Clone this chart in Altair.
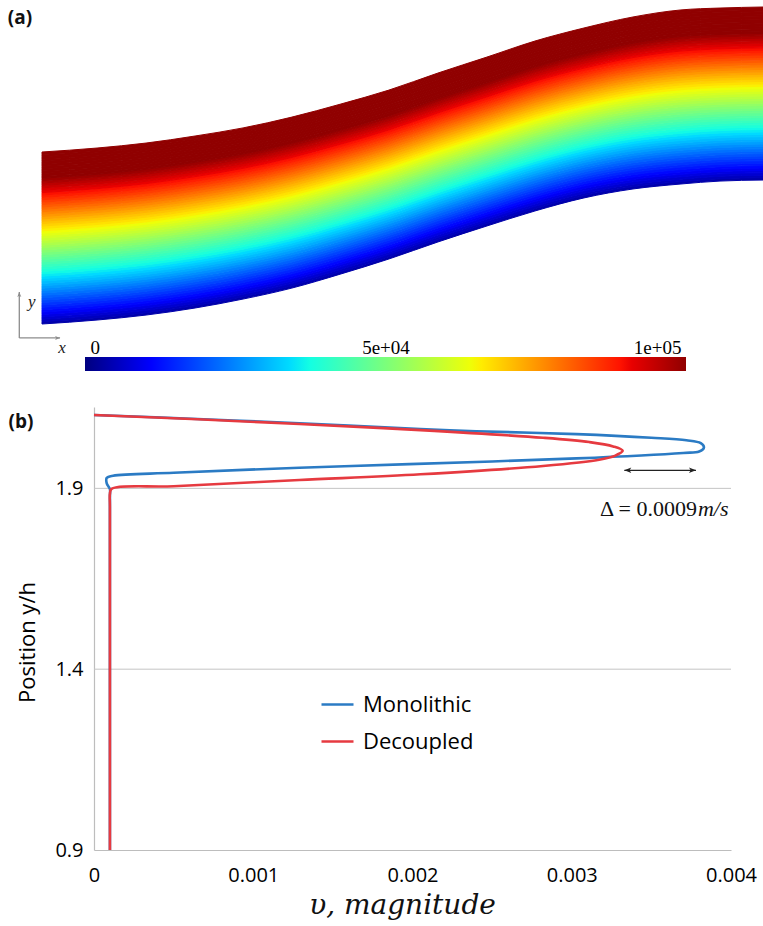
import altair as alt
import pandas as pd

# ---------------- colour map (jet) ----------------
jet_pos = [0.0, 0.11, 0.34, 0.375, 0.64, 0.66, 0.89, 0.91, 1.0]
jet_colors = ["#00007f", "#0000ff", "#00dbff", "#14ffe2", "#eeff08",
              "#ffec00", "#ff1300", "#e80000", "#900000"]
cbar_min, cbar_max = 0, 100000
cbar_ticks = [0, 50000, 100000]
cbar_labels = ["0", "5e+04", "1e+05"]

# ---------------- panel (a): channel walls, in channel heights ----------------
wall_x = [0.000, 0.320, 0.605, 0.890, 1.169, 1.453, 1.738, 2.017,
          2.302, 2.587, 2.866, 3.151, 3.436, 3.715, 3.942, 4.192]
wall_top = [1.000, 1.023, 1.052, 1.093, 1.140, 1.203, 1.279, 1.360,
            1.459, 1.552, 1.645, 1.721, 1.785, 1.826, 1.837, 1.843]
wall_bottom = [0.000, 0.023, 0.052, 0.093, 0.145, 0.209, 0.291, 0.378,
               0.477, 0.570, 0.657, 0.733, 0.785, 0.814, 0.831, 0.837]
field_bottom = 3000.0      # value on the lower wall
field_top = 117000.0       # value on the upper wall
n_levels = 72

# xy icon (channel units)
icon_x0, icon_x1 = -0.132, 0.105
icon_y0, icon_y1 = -0.081, 0.186
icon_labels = ["y", "x"]
icon_label_x = [-0.060, 0.116]
icon_label_y = [0.128, -0.140]

# ---------------- panel (b): velocity profiles ----------------
series_names = ["Monolithic", "Decoupled"]
series_colors = ["#2b7bc4", "#e63a40"]

mono_v = [0.00000, 0.00065, 0.00129, 0.00205, 0.00240, 0.00303, 0.00350, 0.00372,
          0.00381, 0.00383, 0.00380, 0.00370, 0.00303, 0.00198, 0.00129, 0.00050,
          0.00012, 0.00008, 0.00008, 0.00010, 0.00010, 0.00010, 0.00010]
mono_y = [2.103, 2.092, 2.080, 2.064, 2.058, 2.050, 2.040, 2.033,
          2.025, 2.013, 2.002, 1.998, 1.983, 1.967, 1.957, 1.943,
          1.935, 1.929, 1.914, 1.898, 1.880, 1.850, 0.900]

dec_v = [0.00000, 0.00065, 0.00129, 0.00205, 0.00282, 0.00311, 0.00326, 0.00332,
         0.00327, 0.00318, 0.00282, 0.00205, 0.00129, 0.00050, 0.00011, 0.00010,
         0.00010, 0.00010]
dec_y = [2.103, 2.091, 2.078, 2.061, 2.040, 2.028, 2.016, 2.004,
         1.990, 1.980, 1.962, 1.939, 1.923, 1.906, 1.8985, 1.885, 1.850, 0.900]

grid_y = [1.4, 1.9]
x_ticks = [0, 0.001, 0.002, 0.003, 0.004]
y_ticks = [0.9, 1.4, 1.9]

delta_x = [0.00333, 0.00378]
delta_y = 1.950
delta_text_x = 0.003786
delta_text_y = 1.824
delta_text = ["\u0394 = 0.0009", "m/s"]

panel_labels = ["(a)", "(b)"]

# ---------------- tables ----------------
rows = []
for k in range(n_levels):
    v = field_bottom + (field_top - field_bottom) * (k + 0.5) / n_levels
    for xx, t, b in zip(wall_x, wall_top, wall_bottom):
        rows.append({"x": xx, "k": k, "v": v,
                     "lo": b + (t - b) * k / n_levels,
                     "hi": b + (t - b) * (k + 1) / n_levels})
band_df = pd.DataFrame(rows)

prof_rows = []
for name, vs, ys in [("Monolithic", mono_v, mono_y), ("Decoupled", dec_v, dec_y)]:
    for i, (vv, yy) in enumerate(zip(vs, ys)):
        prof_rows.append({"series": name, "v": vv, "y": yy, "i": i})
prof_df = pd.DataFrame(prof_rows)

# ---------------- scales (layout ranges in px) ----------------
band_x = alt.Scale(domain=[0, 4.192], range=[42, 763], zero=False, nice=False)
band_y = alt.Scale(domain=[0, 1], range=[324, 152], zero=False, nice=False)
cb_x = alt.Scale(domain=[cbar_min, cbar_max], range=[85, 686], zero=False, nice=False)
cb_y = alt.Scale(domain=[0, 1], range=[371, 357], zero=False, nice=False)
pb_x = alt.Scale(domain=[0, 0.004], range=[94, 731], zero=False, nice=False)
pb_y = alt.Scale(domain=[0.9, 2.125], range=[850, 407], zero=False, nice=False)
field_scale = alt.Scale(domain=[p * cbar_max for p in jet_pos], range=jet_colors,
                        interpolate="rgb", clamp=True)

arrow_paths = {
    "up": "M0,0L-0.4,1L0,0.75L0.4,1Z",
    "right": "M0,0L-1,-0.4L-0.75,0L-1,0.4Z",
    "left": "M0,0L1,-0.4L0.75,0L1,0.4Z",
}
shape_scale = alt.Scale(domain=list(arrow_paths.keys()), range=list(arrow_paths.values()))

# ---------------- panel (a) layers ----------------
band = alt.Chart(band_df).mark_area(interpolate="monotone", strokeWidth=1).encode(
    x=alt.X("x:Q", scale=band_x, axis=None),
    y=alt.Y("hi:Q", scale=band_y, axis=None, stack=None),
    y2="lo:Q",
    color=alt.Color("v:Q", scale=field_scale, legend=None),
    stroke=alt.Stroke("v:Q", scale=field_scale, legend=None),
    detail="k:N",
)

cbar_label_expr = " : ".join(
    [f"datum.value == {t} ? '{l}'" for t, l in zip(cbar_ticks[:-1], cbar_labels[:-1])]
) + f" : '{cbar_labels[-1]}'"

cbar = alt.Chart(pd.DataFrame({"v0": [cbar_min], "v1": [cbar_max], "b0": [0], "b1": [1]})).mark_rect(
    color=alt.Gradient(
        gradient="linear",
        stops=[alt.GradientStop(color=c, offset=p) for p, c in zip(jet_pos, jet_colors)],
        x1=0, x2=1, y1=0, y2=0,
    )
).encode(
    x=alt.X("v0:Q", scale=cb_x, axis=alt.Axis(
        orient="top", offset=-357, values=cbar_ticks, labelExpr=cbar_label_expr,
        domain=False, ticks=False, tickSize=0, grid=False, labelPadding=0,
        labelFlush=True, labelFlushOffset=-5, labelFont="Liberation Serif",
        labelFontSize=19, labelColor="#000", title=None)),
    x2="v1:Q",
    y=alt.Y("b0:Q", scale=cb_y, axis=None),
    y2="b1:Q",
)

icon_rules = alt.Chart(pd.DataFrame({
    "x0": [icon_x0, icon_x0], "x1": [icon_x0, icon_x1],
    "y0": [icon_y0, icon_y0], "y1": [icon_y1, icon_y0]})).mark_rule(
    color="#8c8c8c", strokeWidth=1.3).encode(
    x=alt.X("x0:Q", scale=band_x, axis=None), x2="x1:Q",
    y=alt.Y("y0:Q", scale=band_y, axis=None), y2="y1:Q")

icon_heads = alt.Chart(pd.DataFrame({
    "x": [icon_x0, icon_x1], "y": [icon_y1, icon_y0], "d": ["up", "right"]})).mark_point(
    filled=True, size=100, color="#8c8c8c", opacity=1).encode(
    x=alt.X("x:Q", scale=band_x, axis=None),
    y=alt.Y("y:Q", scale=band_y, axis=None),
    shape=alt.Shape("d:N", scale=shape_scale, legend=None))

icon_text = alt.Chart(pd.DataFrame({
    "x": icon_label_x, "y": icon_label_y, "t": icon_labels})).mark_text(
    font="Liberation Serif", fontStyle="italic", fontSize=17, color="#222",
    align="center", baseline="middle").encode(
    x=alt.X("x:Q", scale=band_x, axis=None),
    y=alt.Y("y:Q", scale=band_y, axis=None),
    text="t:N")

label_a = alt.Chart(pd.DataFrame({"x": [-0.128], "y": [1.744], "t": [panel_labels[0]]})).mark_text(
    font="Open Sans", fontWeight="bold", fontSize=19, color="#111",
    align="center", baseline="alphabetic").encode(
    x=alt.X("x:Q", scale=band_x, axis=None),
    y=alt.Y("y:Q", scale=band_y, axis=None),
    text="t:N")

# ---------------- panel (b) layers ----------------
grid = alt.Chart(pd.DataFrame({"g": grid_y, "x0": [0, 0], "x1": [0.004, 0.004]})).mark_rule(
    color="#c4c4c4", strokeWidth=1).encode(
    x=alt.X("x0:Q", scale=pb_x, axis=None), x2="x1:Q",
    y=alt.Y("g:Q", scale=pb_y, axis=None))

lines = alt.Chart(prof_df).mark_line(strokeWidth=2.6, interpolate="catmull-rom").encode(
    x=alt.X("v:Q", scale=pb_x, axis=alt.Axis(
        orient="bottom", offset=-76, values=x_ticks, format="~g", grid=False,
        ticks=False, tickSize=0, domainColor="#bdbdbd", domainWidth=1.2,
        labelFlush=False, labelOverlap=False, labelPadding=15,
        labelFont="Open Sans", labelFontSize=20, labelColor="#000",
        title="\u03c5, magnitude", titleFont="DejaVu Serif", titleFontStyle="italic",
        titleFontWeight="normal", titleFontSize=28, titleColor="#111",
        titleX=402, titleY=63, titleAlign="center", titleBaseline="alphabetic")),
    y=alt.Y("y:Q", scale=pb_y, axis=alt.Axis(
        orient="left", offset=-94, values=y_ticks, format=".1f", grid=False,
        ticks=False, tickSize=0, domainColor="#bdbdbd", domainWidth=1.2,
        labelPadding=11, labelFont="Open Sans", labelFontSize=20, labelColor="#000",
        title="Position y/h", titleFont="Open Sans", titleFontWeight="normal",
        titleFontSize=22, titleColor="#000", titleX=-67, titleY=642,
        titleAlign="center", titleBaseline="middle", titleAngle=-90)),
    color=alt.Color("series:N", scale=alt.Scale(domain=series_names, range=series_colors),
                    legend=alt.Legend(orient="none", legendX=320, legendY=687, title=None,
                                      direction="vertical", symbolType="stroke",
                                      symbolSize=1024, symbolStrokeWidth=2.6,
                                      labelFont="Open Sans", labelFontSize=22,
                                      labelColor="#000", labelOffset=8, rowPadding=8,
                                      padding=0)),
    order="i:Q",
)

delta_rule = alt.Chart(pd.DataFrame({"x0": [delta_x[0]], "x1": [delta_x[1]], "y": [delta_y]})).mark_rule(
    color="#222", strokeWidth=1.2).encode(
    x=alt.X("x0:Q", scale=pb_x, axis=None), x2="x1:Q",
    y=alt.Y("y:Q", scale=pb_y, axis=None))

delta_heads = alt.Chart(pd.DataFrame({"x": delta_x, "y": [delta_y, delta_y], "d": ["left", "right"]})).mark_point(
    filled=True, size=196, color="#222", opacity=1).encode(
    x=alt.X("x:Q", scale=pb_x, axis=None),
    y=alt.Y("y:Q", scale=pb_y, axis=None),
    shape=alt.Shape("d:N", scale=shape_scale, legend=None))

delta_t1 = alt.Chart(pd.DataFrame({"x": [delta_text_x], "y": [delta_text_y], "t": [delta_text[0]]})).mark_text(
    font="Liberation Serif", fontSize=22, color="#111", align="right", baseline="alphabetic").encode(
    x=alt.X("x:Q", scale=pb_x, axis=None),
    y=alt.Y("y:Q", scale=pb_y, axis=None),
    text="t:N")

delta_t2 = alt.Chart(pd.DataFrame({"x": [delta_text_x], "y": [delta_text_y], "t": [delta_text[1]]})).mark_text(
    font="Liberation Serif", fontStyle="italic", fontSize=22, color="#111", align="left",
    baseline="alphabetic", dx=1).encode(
    x=alt.X("x:Q", scale=pb_x, axis=None),
    y=alt.Y("y:Q", scale=pb_y, axis=None),
    text="t:N")

label_b = alt.Chart(pd.DataFrame({"x": [-0.000458], "y": [2.067], "t": [panel_labels[1]]})).mark_text(
    font="Open Sans", fontWeight="bold", fontSize=19, color="#111",
    align="center", baseline="alphabetic").encode(
    x=alt.X("x:Q", scale=pb_x, axis=None),
    y=alt.Y("y:Q", scale=pb_y, axis=None),
    text="t:N")

chart = alt.layer(
    band, cbar, icon_rules, icon_heads, icon_text, label_a,
    grid, lines, delta_rule, delta_heads, delta_t1, delta_t2, label_b,
).resolve_scale(
    x="independent", y="independent", color="independent",
    stroke="independent", shape="independent",
).properties(
    width=763, height=926, padding=0,
    autosize=alt.AutoSizeParams(type="none"),
    background="white",
).configure_view(stroke=None)

chart.save("out.html", embed_options={"renderer": "svg", "actions": False})
